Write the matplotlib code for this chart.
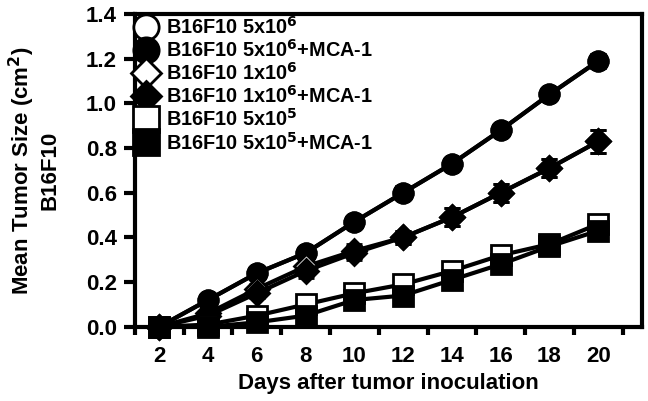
import numpy as np
import matplotlib.pyplot as plt

plt.rcParams['font.family'] = ['Liberation Sans', 'DejaVu Sans']
plt.rcParams['font.weight'] = 'bold'
plt.rcParams['axes.labelweight'] = 'bold'

days = [2, 4, 6, 8, 10, 12, 14, 16, 18, 20]

c5e6 = [0.0, 0.12, 0.24, 0.33, 0.47, 0.60, 0.73, 0.88, 1.04, 1.19]
c5e6_mca = [0.0, 0.12, 0.24, 0.33, 0.47, 0.60, 0.73, 0.88, 1.04, 1.19]
d1e6 = [0.0, 0.06, 0.17, 0.27, 0.34, 0.40, 0.49, 0.60, 0.71, 0.83]
d1e6_mca = [0.0, 0.05, 0.15, 0.25, 0.33, 0.40, 0.49, 0.60, 0.71, 0.83]
s5e5 = [0.0, 0.01, 0.05, 0.10, 0.15, 0.19, 0.25, 0.32, 0.37, 0.46]
s5e5_mca = [0.0, 0.0, 0.02, 0.05, 0.12, 0.14, 0.21, 0.28, 0.36, 0.43]

err_c = [0.0, 0.01, 0.02, 0.02, 0.02, 0.03, 0.02, 0.02, 0.02, 0.03]
err_d = [0.0, 0.01, 0.02, 0.03, 0.03, 0.03, 0.04, 0.04, 0.04, 0.05]
err_s = [0.0, 0.01, 0.01, 0.01, 0.01, 0.01, 0.01, 0.02, 0.02, 0.02]

labels = ['B16F10 5x10$^6$', 'B16F10 5x10$^6$+MCA-1',
          'B16F10 1x10$^6$', 'B16F10 1x10$^6$+MCA-1',
          'B16F10 5x10$^5$', 'B16F10 5x10$^5$+MCA-1']

fig = plt.figure(figsize=(6.48, 4.01), dpi=100)
ax = fig.add_axes([0.208, 0.185, 0.783, 0.78])

series = [
    (c5e6, err_c, 'o', 'white', 14),
    (c5e6_mca, err_c, 'o', 'black', 14),
    (d1e6, err_d, 'D', 'white', 12),
    (d1e6_mca, err_d, 'D', 'black', 12),
    (s5e5, err_s, 's', 'white', 14),
    (s5e5_mca, err_s, 's', 'black', 14),
]
for (y, e, m, fc, ms), lab in zip(series, labels):
    ax.errorbar(days, y, yerr=e, color='black', lw=3, marker=m, ms=ms,
                mfc=fc, mec='black', mew=2, capsize=6, capthick=2.5,
                elinewidth=2, label=lab, clip_on=False, zorder=3)

ax.set_xlim(1, 21.8)
ax.set_ylim(0, 1.4)
ax.set_yticks(np.arange(0, 1.41, 0.2))
ax.set_yticklabels(['%.1f' % v for v in np.arange(0, 1.41, 0.2)])
ax.set_xticks(range(1, 22, 2))
ax.set_xticklabels([])
ax.set_xticks(days, minor=True)
ax.set_xticklabels([str(d) for d in days], minor=True)
ax.tick_params(axis='x', which='minor', length=0, labelsize=16, pad=14)
ax.tick_params(axis='x', which='major', length=6, width=3)
ax.tick_params(axis='y', length=8, width=3, labelsize=16, pad=5)

for s in ax.spines.values():
    s.set_linewidth(3)

ax.set_xlabel('Days after tumor inoculation', fontsize=16, labelpad=4)
ax.set_ylabel('Mean Tumor Size (cm$^2$)\nB16F10', fontsize=16, labelpad=18)

handles, labs = ax.get_legend_handles_labels()
handles = [h[0] for h in handles]
ax.legend(handles, labs, loc='upper left', frameon=False, fontsize=14.3,
          handlelength=0.9, handletextpad=0.55, labelspacing=0.06,
          borderaxespad=0.05, borderpad=0.05, markerscale=1.3)

fig.savefig('out.png', dpi=100)
